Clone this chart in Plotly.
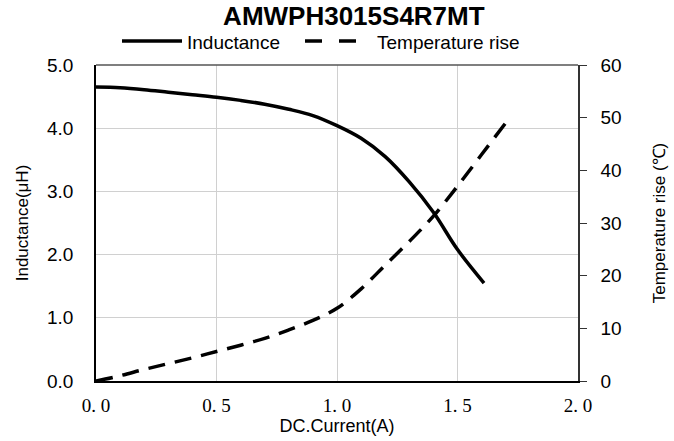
import plotly.graph_objects as go

current_L = [0.0, 0.1, 0.2, 0.3, 0.4, 0.5, 0.6, 0.7, 0.8, 0.9, 1.0, 1.1, 1.2, 1.3, 1.4, 1.5, 1.61]
inductance = [4.65, 4.64, 4.61, 4.57, 4.53, 4.49, 4.44, 4.38, 4.30, 4.20, 4.04, 3.84, 3.55, 3.15, 2.67, 2.08, 1.55]

current_T = [0.0, 0.1, 0.2, 0.3, 0.4, 0.5, 0.6, 0.7, 0.8, 0.9, 1.0, 1.1, 1.2, 1.3, 1.4, 1.5, 1.6, 1.7]
temp_rise = [0.0, 1.0, 2.2, 3.3, 4.4, 5.6, 6.8, 8.1, 9.7, 11.5, 13.8, 17.5, 22.0, 26.5, 31.3, 37.0, 43.0, 49.0]

series_names = ["Inductance", "Temperature rise"]

x_tickvals = [0.0, 0.5, 1.0, 1.5, 2.0]
x_ticktext = ["0. 0", "0. 5", "1. 0", "1. 5", "2. 0"]
y_tickvals = [0, 1, 2, 3, 4, 5]
y_ticktext = ["0.0", "1.0", "2.0", "3.0", "4.0", "5.0"]
y2_tickvals = [0, 10, 20, 30, 40, 50, 60]

W, H = 674, 441
ML, MR, MT, MB = 96, 96, 65, 60
PW, PH = W - ML - MR, H - MT - MB


def px_x(px):
    return (px - ML) / PW


def px_y(py):
    return (H - MB - py) / PH


fig = go.Figure()
fig.add_trace(go.Scatter(x=current_L, y=inductance, mode="lines", name=series_names[0],
                         showlegend=False,
                         line=dict(color="black", width=3.5, shape="spline")))
fig.add_trace(go.Scatter(x=current_T, y=temp_rise, mode="lines", name=series_names[1],
                         yaxis="y2", showlegend=False,
                         line=dict(color="black", width=3.5, dash="17px,10px", shape="spline")))

sans = "Liberation Sans, Arial, sans-serif"

# custom legend (longer line samples like the reference)
leg_y = px_y(41)
fig.add_shape(type="line", xref="paper", yref="paper", x0=px_x(122), x1=px_x(182), y0=leg_y, y1=leg_y,
              line=dict(color="black", width=3.5))
fig.add_shape(type="line", xref="paper", yref="paper", x0=px_x(305), x1=px_x(359), y0=leg_y, y1=leg_y,
              line=dict(color="black", width=3.5, dash="17px,17px"))
fig.add_annotation(xref="paper", yref="paper", x=px_x(186), y=px_y(42), xanchor="left", yanchor="middle",
                   text=series_names[0], showarrow=False, borderpad=0,
                   font=dict(family=sans, size=19, color="black"))
fig.add_annotation(xref="paper", yref="paper", x=px_x(376), y=px_y(42), xanchor="left", yanchor="middle",
                   text=series_names[1], showarrow=False, borderpad=0,
                   font=dict(family=sans, size=19, color="black"))

fig.update_layout(
    width=W, height=H,
    margin=dict(l=ML, r=MR, t=MT, b=MB, autoexpand=False),
    paper_bgcolor="white", plot_bgcolor="white",
    showlegend=False,
    title=dict(text="<b>AMWPH3015S4R7MT</b>", x=0.535, xref="paper", xanchor="center",
               y=1 - 15.5 / H, yref="container", yanchor="middle",
               font=dict(family=sans, size=26, color="black")),
    xaxis=dict(range=[0, 2], tickvals=x_tickvals, ticktext=x_ticktext, automargin=False,
               showgrid=True, gridcolor="#d0d0d0", gridwidth=1,
               showline=True, linecolor="black", linewidth=1.5, mirror=False,
               ticks="", zeroline=False, ticklabelstandoff=6,
               tickfont=dict(family="Liberation Serif, DejaVu Serif, serif", size=19, color="black"),
               title=dict(text="DC.Current(A)", font=dict(family=sans, size=18, color="black"), standoff=4)),
    yaxis=dict(range=[0, 5], tickvals=y_tickvals, ticktext=y_ticktext, automargin=False,
               showgrid=True, gridcolor="#d0d0d0", gridwidth=1,
               showline=True, linecolor="black", linewidth=1.5,
               ticks="", zeroline=False, ticklabelstandoff=17,
               tickfont=dict(family=sans, size=19, color="black"),
               title=dict(text="Inductance(μH)", font=dict(family=sans, size=17, color="black"), standoff=14)),
    yaxis2=dict(range=[0, 60], tickvals=y2_tickvals, overlaying="y", side="right", automargin=False,
                showgrid=False, showline=True, linecolor="#333333", linewidth=1.5,
                ticks="outside", ticklen=7, tickcolor="#333333", zeroline=False,
                ticklabelstandoff=10,
                tickfont=dict(family=sans, size=19, color="black"),
                title=dict(text="Temperature rise (℃)", font=dict(family=sans, size=17, color="black"), standoff=32)),
)
fig.add_shape(type="line", xref="paper", yref="paper", x0=0, x1=1, y0=1, y1=1,
              line=dict(color="#555555", width=1.5))

fig.write_html("out.html", config={"displayModeBar": False},
               post_script="document.body.style.margin='0';")
